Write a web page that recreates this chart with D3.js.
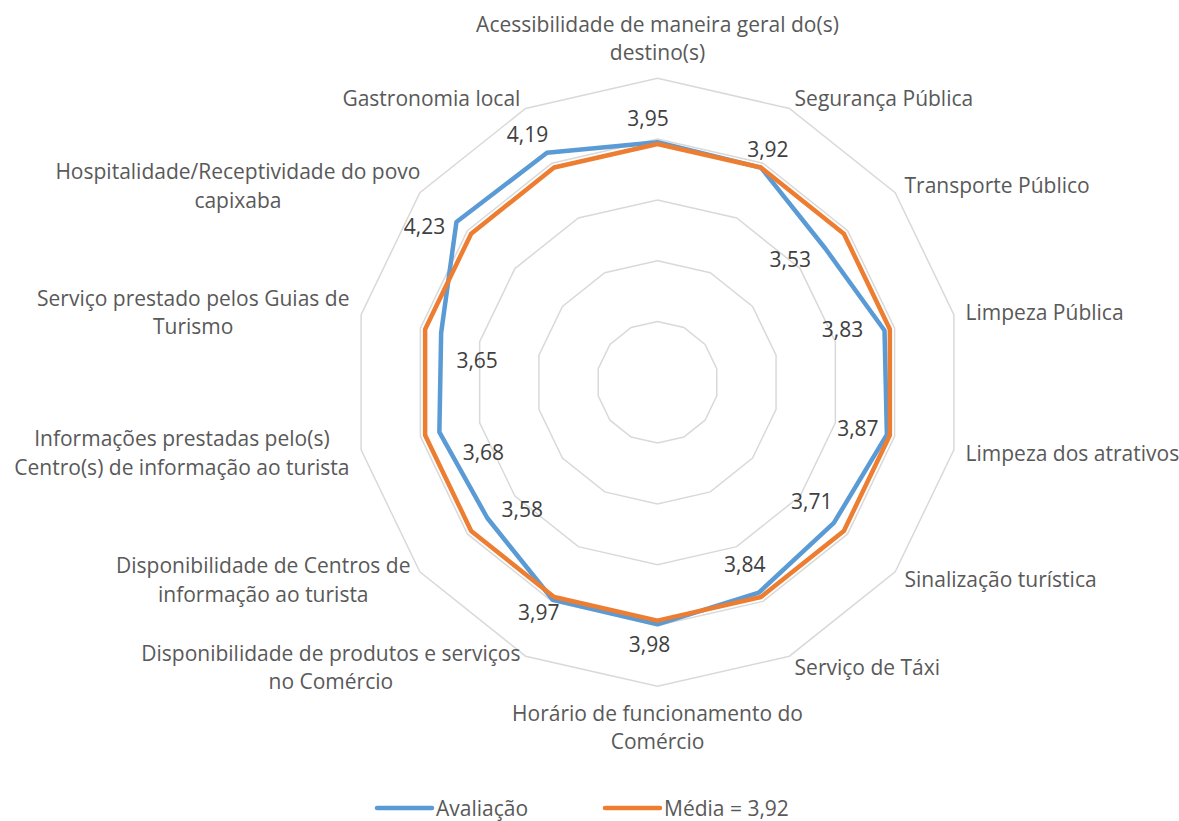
<!DOCTYPE html>
<html lang="pt-BR">
<head>
<meta charset="utf-8">
<title>Avaliação dos serviços</title>
<script src="https://cdn.jsdelivr.net/npm/d3@7"></script>
<style>
  html, body { margin: 0; background: #ffffff; }
  svg { display: block; }
</style>
</head>
<body>
<svg id="chart" width="1179" height="821"></svg>
<script>
// Categories (clockwise from the top), each split into its label lines
const categories = [
  ["Acessibilidade de maneira geral do(s)", "destino(s)"],
  ["Segurança Pública"],
  ["Transporte Público"],
  ["Limpeza Pública"],
  ["Limpeza dos atrativos"],
  ["Sinalização turística"],
  ["Serviço de Táxi"],
  ["Horário de funcionamento do", "Comércio"],
  ["Disponibilidade de produtos e serviços", "no Comércio"],
  ["Disponibilidade de Centros de", "informação ao turista"],
  ["Informações prestadas pelo(s)", "Centro(s) de informação ao turista"],
  ["Serviço prestado pelos Guias de", "Turismo"],
  ["Hospitalidade/Receptividade do povo", "capixaba"],
  ["Gastronomia local"]
];

// Series values
const avaliacao = [3.95, 3.92, 3.53, 3.83, 3.87, 3.71, 3.84, 3.98, 3.97, 3.58, 3.68, 3.65, 4.23, 4.19];
const media     = [3.92, 3.92, 3.92, 3.92, 3.92, 3.92, 3.92, 3.92, 3.92, 3.92, 3.92, 3.92, 3.92, 3.92];
const seriesNames = ["Avaliação", "Média = 3,92"];

// Radial axis
const radialDomain = [0, 5];
const gridLevels = [1, 2, 3, 4, 5];

// ---- layout & style ----
const W = 1179, H = 821;
const cx = 657.5, cy = 382.3, R = 304;
const FONT = "'Open Sans', Lato, sans-serif";
const FS = 21;
const LINE_H = 28.5;
const colors = { avaliacao: "#5B9BD5", media: "#ED7D31", grid: "#D9D9D9", cat: "#595959", val: "#404040" };

// where each value label sits relative to its point (dx, dy)
const valueLabelOffset = [
  [-9.5, -24], [7, -19], [-35, 11], [-42, -1], [-29, -7], [-22, -22], [-14, -29],
  [-8, 20], [-14, 12], [35, -9], [44, 20], [36, 27], [-32, 4], [-19.5, -19]
];
// extra horizontal shift for the category labels that need it
const categoryLabelShift = { 12: 10 };

const svg = d3.select("#chart");
const g = svg.append("g").attr("transform", `translate(${cx},${cy})`);

const n = categories.length;
const r = d3.scaleLinear().domain(radialDomain).range([0, R]);
const angle = d3.scaleLinear().domain([0, n]).range([0, 2 * Math.PI]);
const idx = d3.range(n);

const radial = d3.lineRadial()
  .angle((d, i) => angle(i))
  .radius(d => r(d))
  .curve(d3.curveLinearClosed);

// grid rings
g.append("g").selectAll("path")
  .data(gridLevels)
  .join("path")
  .attr("d", lvl => radial(idx.map(() => lvl)))
  .attr("fill", "none")
  .attr("stroke", colors.grid)
  .attr("stroke-width", 1.5);

// series
const series = [
  { key: "avaliacao", values: avaliacao, color: colors.avaliacao },
  { key: "media", values: media, color: colors.media }
];
g.append("g").selectAll("path")
  .data(series)
  .join("path")
  .attr("d", s => radial(s.values))
  .attr("fill", "none")
  .attr("stroke", s => s.color)
  .attr("stroke-width", 4.5)
  .attr("stroke-linejoin", "round");

// point position helper
const pt = (v, i) => {
  const a = angle(i);
  return [r(v) * Math.sin(a), -r(v) * Math.cos(a)];
};

// value labels
const fmt = d3.formatLocale({ decimal: ",", thousands: ".", grouping: [3], currency: ["R$", ""] }).format(".2f");
g.append("g").selectAll("text")
  .data(avaliacao)
  .join("text")
  .attr("x", (v, i) => pt(v, i)[0] + valueLabelOffset[i][0])
  .attr("y", (v, i) => pt(v, i)[1] + valueLabelOffset[i][1])
  .attr("text-anchor", "middle")
  .attr("dominant-baseline", "central")
  .attr("font-family", FONT)
  .attr("font-size", FS)
  .attr("fill", colors.val)
  .text(v => fmt(v));

// category labels
const catG = g.append("g");
categories.forEach((lines, i) => {
  const [vx, vy] = pt(radialDomain[1], i);
  const a = angle(i);
  const s = Math.sin(a), c = Math.cos(a);
  const ox = vx + 12 * s, oy = vy - 12 * c;
  const t = catG.append("text")
    .attr("font-family", FONT)
    .attr("font-size", FS)
    .attr("fill", colors.cat)
    .attr("text-anchor", "middle")
    .attr("dominant-baseline", "central");
  lines.forEach(l => t.append("tspan").text(l));
  // measure block width so the block sits beside the vertex
  const widths = t.selectAll("tspan").nodes().map(nd => nd.getComputedTextLength());
  const bw = d3.max(widths);
  const bh = lines.length * LINE_H;
  let bx, by;
  if (Math.abs(s) < 1e-6) {
    bx = ox;
    by = c > 0 ? oy - bh / 2 : oy + bh / 2;
  } else if (s > 0) {
    bx = ox + bw / 2;
    by = oy;
  } else {
    bx = ox - bw / 2;
    by = oy;
  }
  bx += categoryLabelShift[i] || 0;
  t.selectAll("tspan")
    .attr("x", bx)
    .attr("y", (d, k) => by - bh / 2 + LINE_H / 2 + k * LINE_H);
});

// legend
const legend = svg.append("g");
const legendItems = [
  { name: seriesNames[0], color: colors.avaliacao, x0: 377 },
  { name: seriesNames[1], color: colors.media, x0: 605 }
];
const lg = legend.selectAll("g").data(legendItems).join("g")
  .attr("transform", d => `translate(${d.x0},808)`);
lg.append("line")
  .attr("x1", 0).attr("x2", 55).attr("y1", 0).attr("y2", 0)
  .attr("stroke", d => d.color)
  .attr("stroke-width", 4.5)
  .attr("stroke-linecap", "round");
lg.append("text")
  .attr("x", 59).attr("y", 0)
  .attr("dominant-baseline", "central")
  .attr("font-family", FONT)
  .attr("font-size", FS)
  .attr("fill", colors.cat)
  .text(d => d.name);
</script>
</body>
</html>
